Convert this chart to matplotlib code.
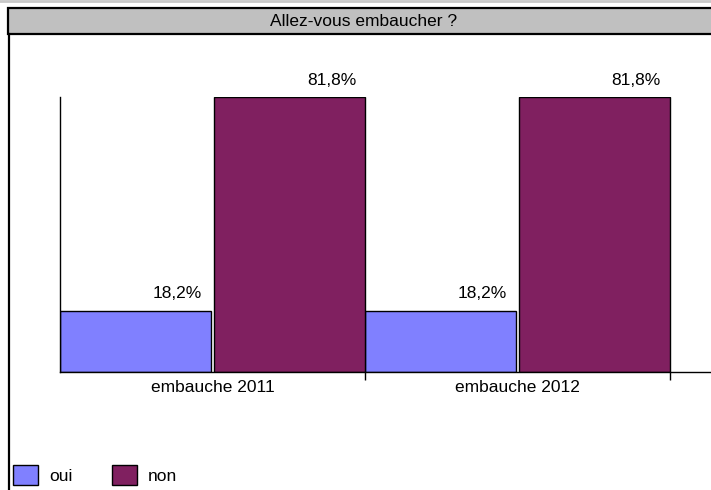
import matplotlib
matplotlib.use("Agg")
import matplotlib.pyplot as plt
from matplotlib.patches import Rectangle
from matplotlib.lines import Line2D

plt.rcParams['font.family'] = ['Liberation Sans', 'DejaVu Sans']
plt.rcParams['font.size'] = 12.5

# data
title = "Allez-vous embaucher ?"
groups = ["embauche 2011", "embauche 2012"]
series = ["oui", "non"]
values = [[18.2, 18.2], [81.8, 81.8]]
colors = ["#8080ff", "#802060"]

W, H = 711, 490
fig = plt.figure(figsize=(W / 100, H / 100), dpi=100)

# title bar and frame
fig.patches.append(Rectangle((8 / W, 1 - 34 / H), 1, 26 / H, transform=fig.transFigure,
                             facecolor="#c0c0c0", edgecolor="black", lw=1.6))
fig.lines.append(Line2D([9 / W, 9 / W], [0, 1 - 34 / H], transform=fig.transFigure,
                        color="black", lw=1.6))
fig.lines.append(Line2D([0, 1], [1 - 1 / H, 1 - 1 / H], transform=fig.transFigure,
                        color="#c8c8c8", lw=2))
fig.text(364 / W, 1 - 21 / H, title, ha="center", va="center")

ax = fig.add_axes([60 / W, (H - 372) / H, (W - 60) / W, (372 - 97) / H])
ax.set_xlim(0, 651 / 305)
ax.set_ylim(0, max(max(v) for v in values))

bw = 0.495
offs = [0.0, 0.505]
for i, s in enumerate(series):
    for g in range(len(groups)):
        x0 = g + offs[i]
        v = values[i][g]
        ax.bar(x0, v, width=bw, align="edge", color=colors[i], edgecolor="black",
               lw=1, label=s if g == 0 else None)
        ax.annotate(f"{v:.1f}%".replace(".", ","), xy=(x0 + bw, v), xytext=(-9, 17),
                    textcoords="offset pixels", ha="right", va="center",
                    annotation_clip=False)

for sp in ["top", "right"]:
    ax.spines[sp].set_visible(False)
ax.spines["left"].set_linewidth(1)
ax.spines["bottom"].set_linewidth(1)
ax.set_yticks([])
ax.set_xticks([1, 2])
ax.set_xticklabels([])
ax.tick_params(axis="x", which="major", direction="out", length=6, width=1)
ax.set_xticks([g + 0.5 for g in range(len(groups))], minor=True)
ax.set_xticklabels(groups, minor=True)
ax.tick_params(axis="x", which="minor", length=0, pad=6)

fig.legend(loc="lower left", bbox_to_anchor=(13 / W, (H - 485) / H), ncol=2,
           frameon=False, borderpad=0, borderaxespad=0, handlelength=1.44,
           handleheight=1.4, handletextpad=0.63, columnspacing=2.3)

fig.savefig("out.png", dpi=100)
